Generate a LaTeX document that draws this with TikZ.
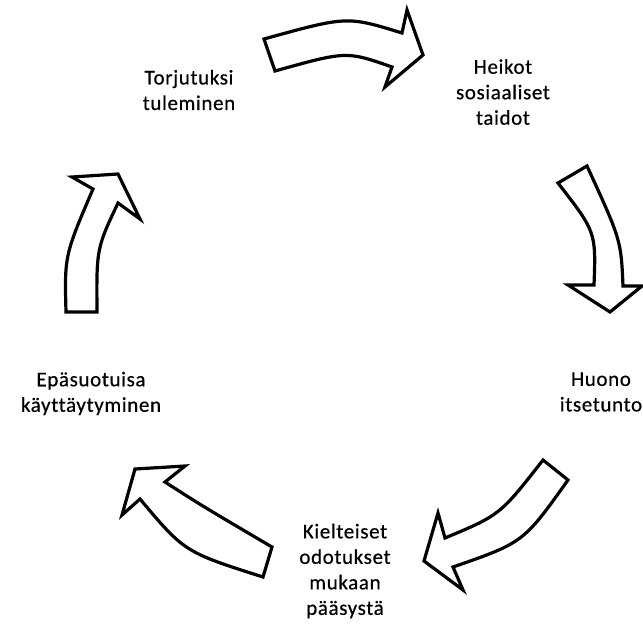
\documentclass[tikz,border=0pt]{standalone}
\usepackage{fontspec}
\setmainfont{Carlito}[LetterSpace=3,Ligatures=NoCommon,FakeBold=0.5]
\begin{document}
\begin{tikzpicture}[x=1pt,y=-1pt,
  lbl/.style={align=center,inner sep=0pt,font=\fontsize{21}{25.5}\selectfont},
  blockarrow/.style={draw=black,fill=white,line width=3.2pt,line join=miter}]
\useasboundingbox (0,0) rectangle (643,626);
% labels
\node[lbl] (torj) at (189,90) {Torjutuksi\\tuleminen};
\node[lbl] (heik) at (503,92) {Heikot\\sosiaaliset\\taidot};
\node[lbl] (huon) at (601,392) {Huono\\itsetunto};
\node[lbl] (epas) at (91,393.5) {Epäsuotuisa\\käyttäytyminen};
\node[lbl] (kiel) at (345,571) {Kielteiset\\odotukset\\mukaan\\pääsystä};
% arrow 1 (top, to the right)
\draw[blockarrow] (264,39) -- (275,71) .. controls (346.5,51) .. (392,67)
  -- (385,87) -- (423,55) -- (407,10) -- (402,33)
  .. controls (347,16) .. (264,39) -- cycle;
% arrow 2 (right, downwards)
\draw[blockarrow] (558,183) -- (587,166) .. controls (621,240) .. (623,286)
  -- (642,286) -- (610,312) -- (568,285) -- (594,285)
  .. controls (596,232) .. (558,183) -- cycle;
% arrow 3 (lower right, to the lower left)
\draw[blockarrow] (543,460) -- (568,480) .. controls (523.5,542.5) .. (453,567)
  -- (463,590) -- (424,561) -- (438,513) -- (445,538)
  .. controls (500,515) .. (543,460) -- cycle;
% arrow 4 (lower left, to the upper left)
\draw[blockarrow] (263,577) -- (272,547) .. controls (201.5,505.5) .. (165,482)
  -- (185,466) -- (135,469) -- (122,515) -- (140,499)
  .. controls (184.5,552) .. (263,577) -- cycle;
% arrow 5 (left, upwards)
\draw[blockarrow] (66,312) -- (97,312) .. controls (96.5,248.5) .. (118,203)
  -- (140,219) -- (118,174) -- (72,177) -- (93,189)
  .. controls (64.5,255.5) .. (66,312) -- cycle;
\end{tikzpicture}
\end{document}
